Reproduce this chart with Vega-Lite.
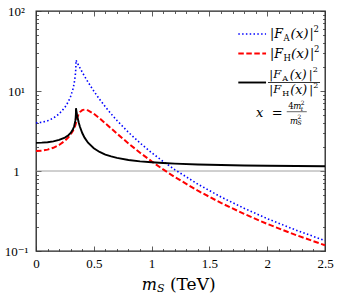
{
  "$schema": "https://vega.github.io/schema/vega-lite/v6.json",
  "width": 289,
  "height": 240,
  "autosize": {"type": "none"},
  "padding": {"left": 36, "top": 11, "right": 13, "bottom": 46},
  "background": "white",
  "config": {"view": {"stroke": "#222", "strokeWidth": 1.3}},
  "datasets": {
    "ff": [
      {"m": 0, "FA": 4.000, "FH": 1.778, "R": 2.250},
      {"m": 0.05, "FA": 4.057, "FH": 1.795, "R": 2.260},
      {"m": 0.1, "FA": 4.237, "FH": 1.850, "R": 2.290},
      {"m": 0.15, "FA": 4.578, "FH": 1.951, "R": 2.346},
      {"m": 0.2, "FA": 5.170, "FH": 2.116, "R": 2.444},
      {"m": 0.25, "FA": 6.239, "FH": 2.385, "R": 2.616},
      {"m": 0.28, "FA": 7.371, "FH": 2.635, "R": 2.798},
      {"m": 0.3, "FA": 8.578, "FH": 2.867, "R": 2.992},
      {"m": 0.32, "FA": 10.623, "FH": 3.194, "R": 3.326},
      {"m": 0.33, "FA": 12.398, "FH": 3.419, "R": 3.627},
      {"m": 0.34, "FA": 15.753, "FH": 3.725, "R": 4.230},
      {"m": 0.343, "FA": 17.760, "FH": 3.846, "R": 4.618},
      {"m": 0.345, "FA": 20.201, "FH": 3.942, "R": 5.124},
      {"m": 0.3455, "FA": 21.308, "FH": 3.970, "R": 5.368},
      {"m": 0.346, "FA": 24.352, "FH": 4.000, "R": 6.088},
      {"m": 0.347, "FA": 24.186, "FH": 4.067, "R": 5.947},
      {"m": 0.349, "FA": 23.857, "FH": 4.195, "R": 5.686},
      {"m": 0.35, "FA": 23.695, "FH": 4.257, "R": 5.566},
      {"m": 0.355, "FA": 22.908, "FH": 4.540, "R": 5.046},
      {"m": 0.36, "FA": 22.157, "FH": 4.785, "R": 4.631},
      {"m": 0.37, "FA": 20.750, "FH": 5.175, "R": 4.010},
      {"m": 0.38, "FA": 19.465, "FH": 5.456, "R": 3.568},
      {"m": 0.4, "FA": 17.204, "FH": 5.769, "R": 2.982},
      {"m": 0.42, "FA": 15.289, "FH": 5.853, "R": 2.612},
      {"m": 0.45, "FA": 12.925, "FH": 5.723, "R": 2.258},
      {"m": 0.5, "FA": 9.979, "FH": 5.192, "R": 1.922},
      {"m": 0.55, "FA": 7.878, "FH": 4.555, "R": 1.730},
      {"m": 0.6, "FA": 6.335, "FH": 3.944, "R": 1.606},
      {"m": 0.65, "FA": 5.176, "FH": 3.403, "R": 1.521},
      {"m": 0.7, "FA": 4.286, "FH": 2.938, "R": 1.459},
      {"m": 0.8, "FA": 3.040, "FH": 2.211, "R": 1.375},
      {"m": 0.9, "FA": 2.237, "FH": 1.693, "R": 1.321},
      {"m": 1.0, "FA": 1.694, "FH": 1.320, "R": 1.284},
      {"m": 1.1, "FA": 1.315, "FH": 1.046, "R": 1.257},
      {"m": 1.2, "FA": 1.041, "FH": 0.842, "R": 1.237},
      {"m": 1.4, "FA": 0.685, "FH": 0.567, "R": 1.208},
      {"m": 1.6, "FA": 0.474, "FH": 0.399, "R": 1.188},
      {"m": 1.8, "FA": 0.342, "FH": 0.291, "R": 1.174},
      {"m": 2.0, "FA": 0.254, "FH": 0.218, "R": 1.163},
      {"m": 2.25, "FA": 0.182, "FH": 0.158, "R": 1.153},
      {"m": 2.5, "FA": 0.135, "FH": 0.118, "R": 1.145}
    ]
  },
  "data": {"name": "ff"},
  "resolve": {"axis": {"x": "independent", "y": "independent"}},
  "layer": [
    {
      "data": {"values": [{}]},
      "mark": {"type": "rule", "color": "#888888", "strokeWidth": 0.8},
      "encoding": {"y": {"datum": 1, "axis": null}}
    },
    {
      "mark": {"type": "line", "color": "#0000ff", "strokeWidth": 1.6, "strokeDash": [1.5, 2.3]},
      "encoding": {
        "x": {"field": "m", "type": "quantitative",
          "scale": {"domain": [0, 2.5], "nice": false, "zero": false},
          "axis": {"orient": "bottom", "title": null, "domain": false, "grid": false,
            "values": [0,0.1,0.2,0.3,0.4,0.5,0.6,0.7,0.8,0.9,1,1.1,1.2,1.3,1.4,1.5,1.6,1.7,1.8,1.9,2,2.1,2.2,2.3,2.4,2.5],
            "labelExpr": "indexof([0,0.5,1,1.5,2,2.5], datum.value) >= 0 ? format(datum.value, '~g') : ''",
            "tickColor": "#333", "tickWidth": 0.8,
            "tickSize": {"condition": {"test": "indexof([0,0.5,1,1.5,2,2.5], datum.value) >= 0", "value": -5}, "value": -2.5},
            "labelFont": "Liberation Serif, DejaVu Serif, serif", "labelFontSize": 13, "labelColor": "black",
            "labelBaseline": "middle", "labelPadding": 17, "labelFlush": false, "labelOverlap": false, "labelBound": false}},
        "y": {"field": "FA", "type": "quantitative",
          "scale": {"type": "log", "domain": [0.1, 100], "nice": false},
          "axis": {"orient": "left", "title": null, "domain": false, "grid": false,
            "values": [0.1,0.2,0.3,0.4,0.5,0.6,0.7,0.8,0.9,1,2,3,4,5,6,7,8,9,10,20,30,40,50,60,70,80,90,100],
            "labelExpr": "datum.value == 100 ? '10²' : datum.value == 10 ? '10¹' : datum.value == 1 ? '1' : datum.value == 0.1 ? '10⁻¹' : ''",
            "tickColor": "#333", "tickWidth": 0.8,
            "tickSize": {"condition": {"test": "indexof([0.1,1,10,100], datum.value) >= 0", "value": -5}, "value": -2.5},
            "labelFont": "Liberation Serif, DejaVu Serif, serif", "labelFontSize": 13, "labelColor": "black",
            "labelAlign": "center", "labelBaseline": "middle", "labelPadding": 25, "labelOverlap": false, "labelBound": false, "labelFlush": false}}
      }
    },
    {
      "mark": {"type": "line", "color": "#ff0000", "strokeWidth": 2, "strokeDash": [5.5, 2.5]},
      "encoding": {
        "x": {"field": "m", "type": "quantitative", "axis": null},
        "y": {"field": "FH", "type": "quantitative", "axis": null}
      }
    },
    {
      "mark": {"type": "line", "color": "#000000", "strokeWidth": 1.9},
      "encoding": {
        "x": {"field": "m", "type": "quantitative", "axis": null},
        "y": {"field": "R", "type": "quantitative", "axis": null}
      }
    },
    {
      "mark": {"type": "point", "opacity": 0},
      "encoding": {
        "x": {"field": "m", "type": "quantitative",
          "axis": {"orient": "top", "title": null, "domain": false, "grid": false, "labels": false,
            "values": [0,0.1,0.2,0.3,0.4,0.5,0.6,0.7,0.8,0.9,1,1.1,1.2,1.3,1.4,1.5,1.6,1.7,1.8,1.9,2,2.1,2.2,2.3,2.4,2.5],
            "tickColor": "#333", "tickWidth": 0.8,
            "tickSize": {"condition": {"test": "indexof([0,0.5,1,1.5,2,2.5], datum.value) >= 0", "value": -5}, "value": -2.5}}},
        "y": {"field": "FA", "type": "quantitative",
          "axis": {"orient": "right", "title": null, "domain": false, "grid": false, "labels": false,
            "values": [0.1,0.2,0.3,0.4,0.5,0.6,0.7,0.8,0.9,1,2,3,4,5,6,7,8,9,10,20,30,40,50,60,70,80,90,100],
            "tickColor": "#333", "tickWidth": 0.8,
            "tickSize": {"condition": {"test": "indexof([0.1,1,10,100], datum.value) >= 0", "value": -5}, "value": -2.5}}}
      }
    },
    {
      "data": {"values": [{}]},
      "mark": {"type": "rule", "color": "#0000ff", "strokeWidth": 1.6, "strokeDash": [1.5, 2.3]},
      "encoding": {"x": {"datum": 1.75, "axis": null}, "x2": {"datum": 1.99}, "y": {"datum": 51.6, "axis": null}}
    },
    {
      "data": {"values": [{}]},
      "mark": {"type": "rule", "color": "#ff0000", "strokeWidth": 2, "strokeDash": [5.5, 2.5]},
      "encoding": {"x": {"datum": 1.75, "axis": null}, "x2": {"datum": 1.99}, "y": {"datum": 29.4, "axis": null}}
    },
    {
      "data": {"values": [{}]},
      "mark": {"type": "rule", "color": "#000000", "strokeWidth": 1.9},
      "encoding": {"x": {"datum": 1.75, "axis": null}, "x2": {"datum": 1.99}, "y": {"datum": 12.77, "axis": null}}
    },
    {
      "data": {"values": [{}]},
      "mark": {"type": "rule", "color": "#000000", "strokeWidth": 0.8},
      "encoding": {"x": {"datum": 2.007, "axis": null}, "x2": {"datum": 2.457}, "y": {"datum": 12.77, "axis": null}}
    },
    {
      "data": {"values": [{}]},
      "mark": {"type": "rule", "color": "#000000", "strokeWidth": 0.6},
      "encoding": {"x": {"datum": 2.169, "axis": null}, "x2": {"datum": 2.342}, "y": {"datum": 5.51, "axis": null}}
    },
    {"data": {"values": [{}]}, "mark": {"type": "text", "text": "|F", "font": "DejaVu Serif, serif", "fontSize": 12.5, "fontStyle": "italic", "align": "left", "baseline": "middle", "fill": "black"}, "encoding": {"x": {"datum": 2.024, "axis": null}, "y": {"datum": 51.6, "axis": null}}},
    {"data": {"values": [{}]}, "mark": {"type": "text", "text": "A", "font": "DejaVu Serif, serif", "fontSize": 8.5, "align": "left", "baseline": "middle", "dx": 13.5, "dy": 4.5, "fill": "black"}, "encoding": {"x": {"datum": 2.024, "axis": null}, "y": {"datum": 51.6, "axis": null}}},
    {"data": {"values": [{}]}, "mark": {"type": "text", "text": "(x)", "font": "DejaVu Serif, serif", "fontSize": 13.5, "fontStyle": "italic", "align": "left", "baseline": "middle", "dx": 20.5, "fill": "black"}, "encoding": {"x": {"datum": 2.024, "axis": null}, "y": {"datum": 51.6, "axis": null}}},
    {"data": {"values": [{}]}, "mark": {"type": "text", "text": "|", "font": "DejaVu Serif, serif", "fontSize": 12.5, "align": "left", "baseline": "middle", "dx": 39.5, "fill": "black"}, "encoding": {"x": {"datum": 2.024, "axis": null}, "y": {"datum": 51.6, "axis": null}}},
    {"data": {"values": [{}]}, "mark": {"type": "text", "text": "2", "font": "DejaVu Serif, serif", "fontSize": 8.5, "align": "left", "baseline": "middle", "dx": 43.5, "dy": -5, "fill": "black"}, "encoding": {"x": {"datum": 2.024, "axis": null}, "y": {"datum": 51.6, "axis": null}}},

    {"data": {"values": [{}]}, "mark": {"type": "text", "text": "|F", "font": "DejaVu Serif, serif", "fontSize": 12.5, "fontStyle": "italic", "align": "left", "baseline": "middle", "fill": "black"}, "encoding": {"x": {"datum": 2.024, "axis": null}, "y": {"datum": 29.4, "axis": null}}},
    {"data": {"values": [{}]}, "mark": {"type": "text", "text": "H", "font": "DejaVu Serif, serif", "fontSize": 8.5, "align": "left", "baseline": "middle", "dx": 13.5, "dy": 4.5, "fill": "black"}, "encoding": {"x": {"datum": 2.024, "axis": null}, "y": {"datum": 29.4, "axis": null}}},
    {"data": {"values": [{}]}, "mark": {"type": "text", "text": "(x)", "font": "DejaVu Serif, serif", "fontSize": 13.5, "fontStyle": "italic", "align": "left", "baseline": "middle", "dx": 21, "fill": "black"}, "encoding": {"x": {"datum": 2.024, "axis": null}, "y": {"datum": 29.4, "axis": null}}},
    {"data": {"values": [{}]}, "mark": {"type": "text", "text": "|", "font": "DejaVu Serif, serif", "fontSize": 12.5, "align": "left", "baseline": "middle", "dx": 40, "fill": "black"}, "encoding": {"x": {"datum": 2.024, "axis": null}, "y": {"datum": 29.4, "axis": null}}},
    {"data": {"values": [{}]}, "mark": {"type": "text", "text": "2", "font": "DejaVu Serif, serif", "fontSize": 8.5, "align": "left", "baseline": "middle", "dx": 44, "dy": -5, "fill": "black"}, "encoding": {"x": {"datum": 2.024, "axis": null}, "y": {"datum": 29.4, "axis": null}}},

    {"data": {"values": [{}]}, "mark": {"type": "text", "text": "|F", "font": "DejaVu Serif, serif", "fontSize": 11.5, "fontStyle": "italic", "align": "left", "baseline": "middle", "fill": "black"}, "encoding": {"x": {"datum": 2.018, "axis": null}, "y": {"datum": 15.63, "axis": null}}},
    {"data": {"values": [{}]}, "mark": {"type": "text", "text": "A", "font": "DejaVu Serif, serif", "fontSize": 8, "align": "left", "baseline": "middle", "dx": 13, "dy": 3.5, "fill": "black"}, "encoding": {"x": {"datum": 2.018, "axis": null}, "y": {"datum": 15.63, "axis": null}}},
    {"data": {"values": [{}]}, "mark": {"type": "text", "text": "(x)", "font": "DejaVu Serif, serif", "fontSize": 12.5, "fontStyle": "italic", "align": "left", "baseline": "middle", "dx": 20.5, "fill": "black"}, "encoding": {"x": {"datum": 2.018, "axis": null}, "y": {"datum": 15.63, "axis": null}}},
    {"data": {"values": [{}]}, "mark": {"type": "text", "text": "|", "font": "DejaVu Serif, serif", "fontSize": 11.5, "align": "left", "baseline": "middle", "dx": 39.5, "fill": "black"}, "encoding": {"x": {"datum": 2.018, "axis": null}, "y": {"datum": 15.63, "axis": null}}},
    {"data": {"values": [{}]}, "mark": {"type": "text", "text": "2", "font": "DejaVu Serif, serif", "fontSize": 8, "align": "left", "baseline": "middle", "dx": 43.5, "dy": -5, "fill": "black"}, "encoding": {"x": {"datum": 2.018, "axis": null}, "y": {"datum": 15.63, "axis": null}}},

    {"data": {"values": [{}]}, "mark": {"type": "text", "text": "|F", "font": "DejaVu Serif, serif", "fontSize": 11.5, "fontStyle": "italic", "align": "left", "baseline": "middle", "fill": "black"}, "encoding": {"x": {"datum": 2.018, "axis": null}, "y": {"datum": 10.29, "axis": null}}},
    {"data": {"values": [{}]}, "mark": {"type": "text", "text": "H", "font": "DejaVu Serif, serif", "fontSize": 8, "align": "left", "baseline": "middle", "dx": 13, "dy": 3.5, "fill": "black"}, "encoding": {"x": {"datum": 2.018, "axis": null}, "y": {"datum": 10.29, "axis": null}}},
    {"data": {"values": [{}]}, "mark": {"type": "text", "text": "(x)", "font": "DejaVu Serif, serif", "fontSize": 12.5, "fontStyle": "italic", "align": "left", "baseline": "middle", "dx": 21, "fill": "black"}, "encoding": {"x": {"datum": 2.018, "axis": null}, "y": {"datum": 10.29, "axis": null}}},
    {"data": {"values": [{}]}, "mark": {"type": "text", "text": "|", "font": "DejaVu Serif, serif", "fontSize": 11.5, "align": "left", "baseline": "middle", "dx": 40, "fill": "black"}, "encoding": {"x": {"datum": 2.018, "axis": null}, "y": {"datum": 10.29, "axis": null}}},
    {"data": {"values": [{}]}, "mark": {"type": "text", "text": "2", "font": "DejaVu Serif, serif", "fontSize": 8, "align": "left", "baseline": "middle", "dx": 44, "dy": -4.5, "fill": "black"}, "encoding": {"x": {"datum": 2.018, "axis": null}, "y": {"datum": 10.29, "axis": null}}},

    {"data": {"values": [{}]}, "mark": {"type": "text", "text": "x", "font": "DejaVu Serif, serif", "fontSize": 13, "fontStyle": "italic", "align": "left", "baseline": "middle", "fill": "black"}, "encoding": {"x": {"datum": 1.903, "axis": null}, "y": {"datum": 5.31, "axis": null}}},
    {"data": {"values": [{}]}, "mark": {"type": "text", "text": "=", "font": "DejaVu Serif, serif", "fontSize": 13, "align": "left", "baseline": "middle", "fill": "black"}, "encoding": {"x": {"datum": 2.039, "axis": null}, "y": {"datum": 5.31, "axis": null}}},
    {"data": {"values": [{}]}, "mark": {"type": "text", "text": "4", "font": "DejaVu Serif, serif", "fontSize": 8.5, "align": "left", "baseline": "middle", "fill": "black"}, "encoding": {"x": {"datum": 2.183, "axis": null}, "y": {"datum": 6.49, "axis": null}}},
    {"data": {"values": [{}]}, "mark": {"type": "text", "text": "m", "font": "DejaVu Serif, serif", "fontSize": 8.5, "fontStyle": "italic", "align": "left", "baseline": "middle", "dx": 4.8, "fill": "black"}, "encoding": {"x": {"datum": 2.183, "axis": null}, "y": {"datum": 6.49, "axis": null}}},
    {"data": {"values": [{}]}, "mark": {"type": "text", "text": "t", "font": "DejaVu Serif, serif", "fontSize": 6, "fontStyle": "italic", "align": "left", "baseline": "middle", "dx": 12.5, "dy": 2.5, "fill": "black"}, "encoding": {"x": {"datum": 2.183, "axis": null}, "y": {"datum": 6.49, "axis": null}}},
    {"data": {"values": [{}]}, "mark": {"type": "text", "text": "2", "font": "DejaVu Serif, serif", "fontSize": 6, "align": "left", "baseline": "middle", "dx": 12.5, "dy": -3.5, "fill": "black"}, "encoding": {"x": {"datum": 2.183, "axis": null}, "y": {"datum": 6.49, "axis": null}}},
    {"data": {"values": [{}]}, "mark": {"type": "text", "text": "m", "font": "DejaVu Serif, serif", "fontSize": 8.5, "fontStyle": "italic", "align": "left", "baseline": "middle", "fill": "black"}, "encoding": {"x": {"datum": 2.197, "axis": null}, "y": {"datum": 4.22, "axis": null}}},
    {"data": {"values": [{}]}, "mark": {"type": "text", "text": "S", "font": "DejaVu Serif, serif", "fontSize": 6, "fontStyle": "italic", "align": "left", "baseline": "middle", "dx": 7.5, "dy": 2.5, "fill": "black"}, "encoding": {"x": {"datum": 2.197, "axis": null}, "y": {"datum": 4.22, "axis": null}}},
    {"data": {"values": [{}]}, "mark": {"type": "text", "text": "2", "font": "DejaVu Serif, serif", "fontSize": 6, "align": "left", "baseline": "middle", "dx": 7.5, "dy": -3.5, "fill": "black"}, "encoding": {"x": {"datum": 2.197, "axis": null}, "y": {"datum": 4.22, "axis": null}}},

    {"data": {"values": [{}]}, "mark": {"type": "text", "text": "m", "font": "DejaVu Serif, serif", "fontSize": 16, "fontStyle": "italic", "align": "left", "baseline": "middle", "fill": "black"}, "encoding": {"x": {"datum": 0.914, "axis": null}, "y": {"datum": 0.0376, "axis": null}}},
    {"data": {"values": [{}]}, "mark": {"type": "text", "text": "S", "font": "DejaVu Serif, serif", "fontSize": 11, "fontStyle": "italic", "align": "left", "baseline": "middle", "dx": 15.3, "dy": 4, "fill": "black"}, "encoding": {"x": {"datum": 0.914, "axis": null}, "y": {"datum": 0.0376, "axis": null}}},
    {"data": {"values": [{}]}, "mark": {"type": "text", "text": "(TeV)", "font": "DejaVu Serif, serif", "fontSize": 17, "align": "left", "baseline": "middle", "dx": 28.3, "fill": "black"}, "encoding": {"x": {"datum": 0.914, "axis": null}, "y": {"datum": 0.0376, "axis": null}}}
  ]
}
